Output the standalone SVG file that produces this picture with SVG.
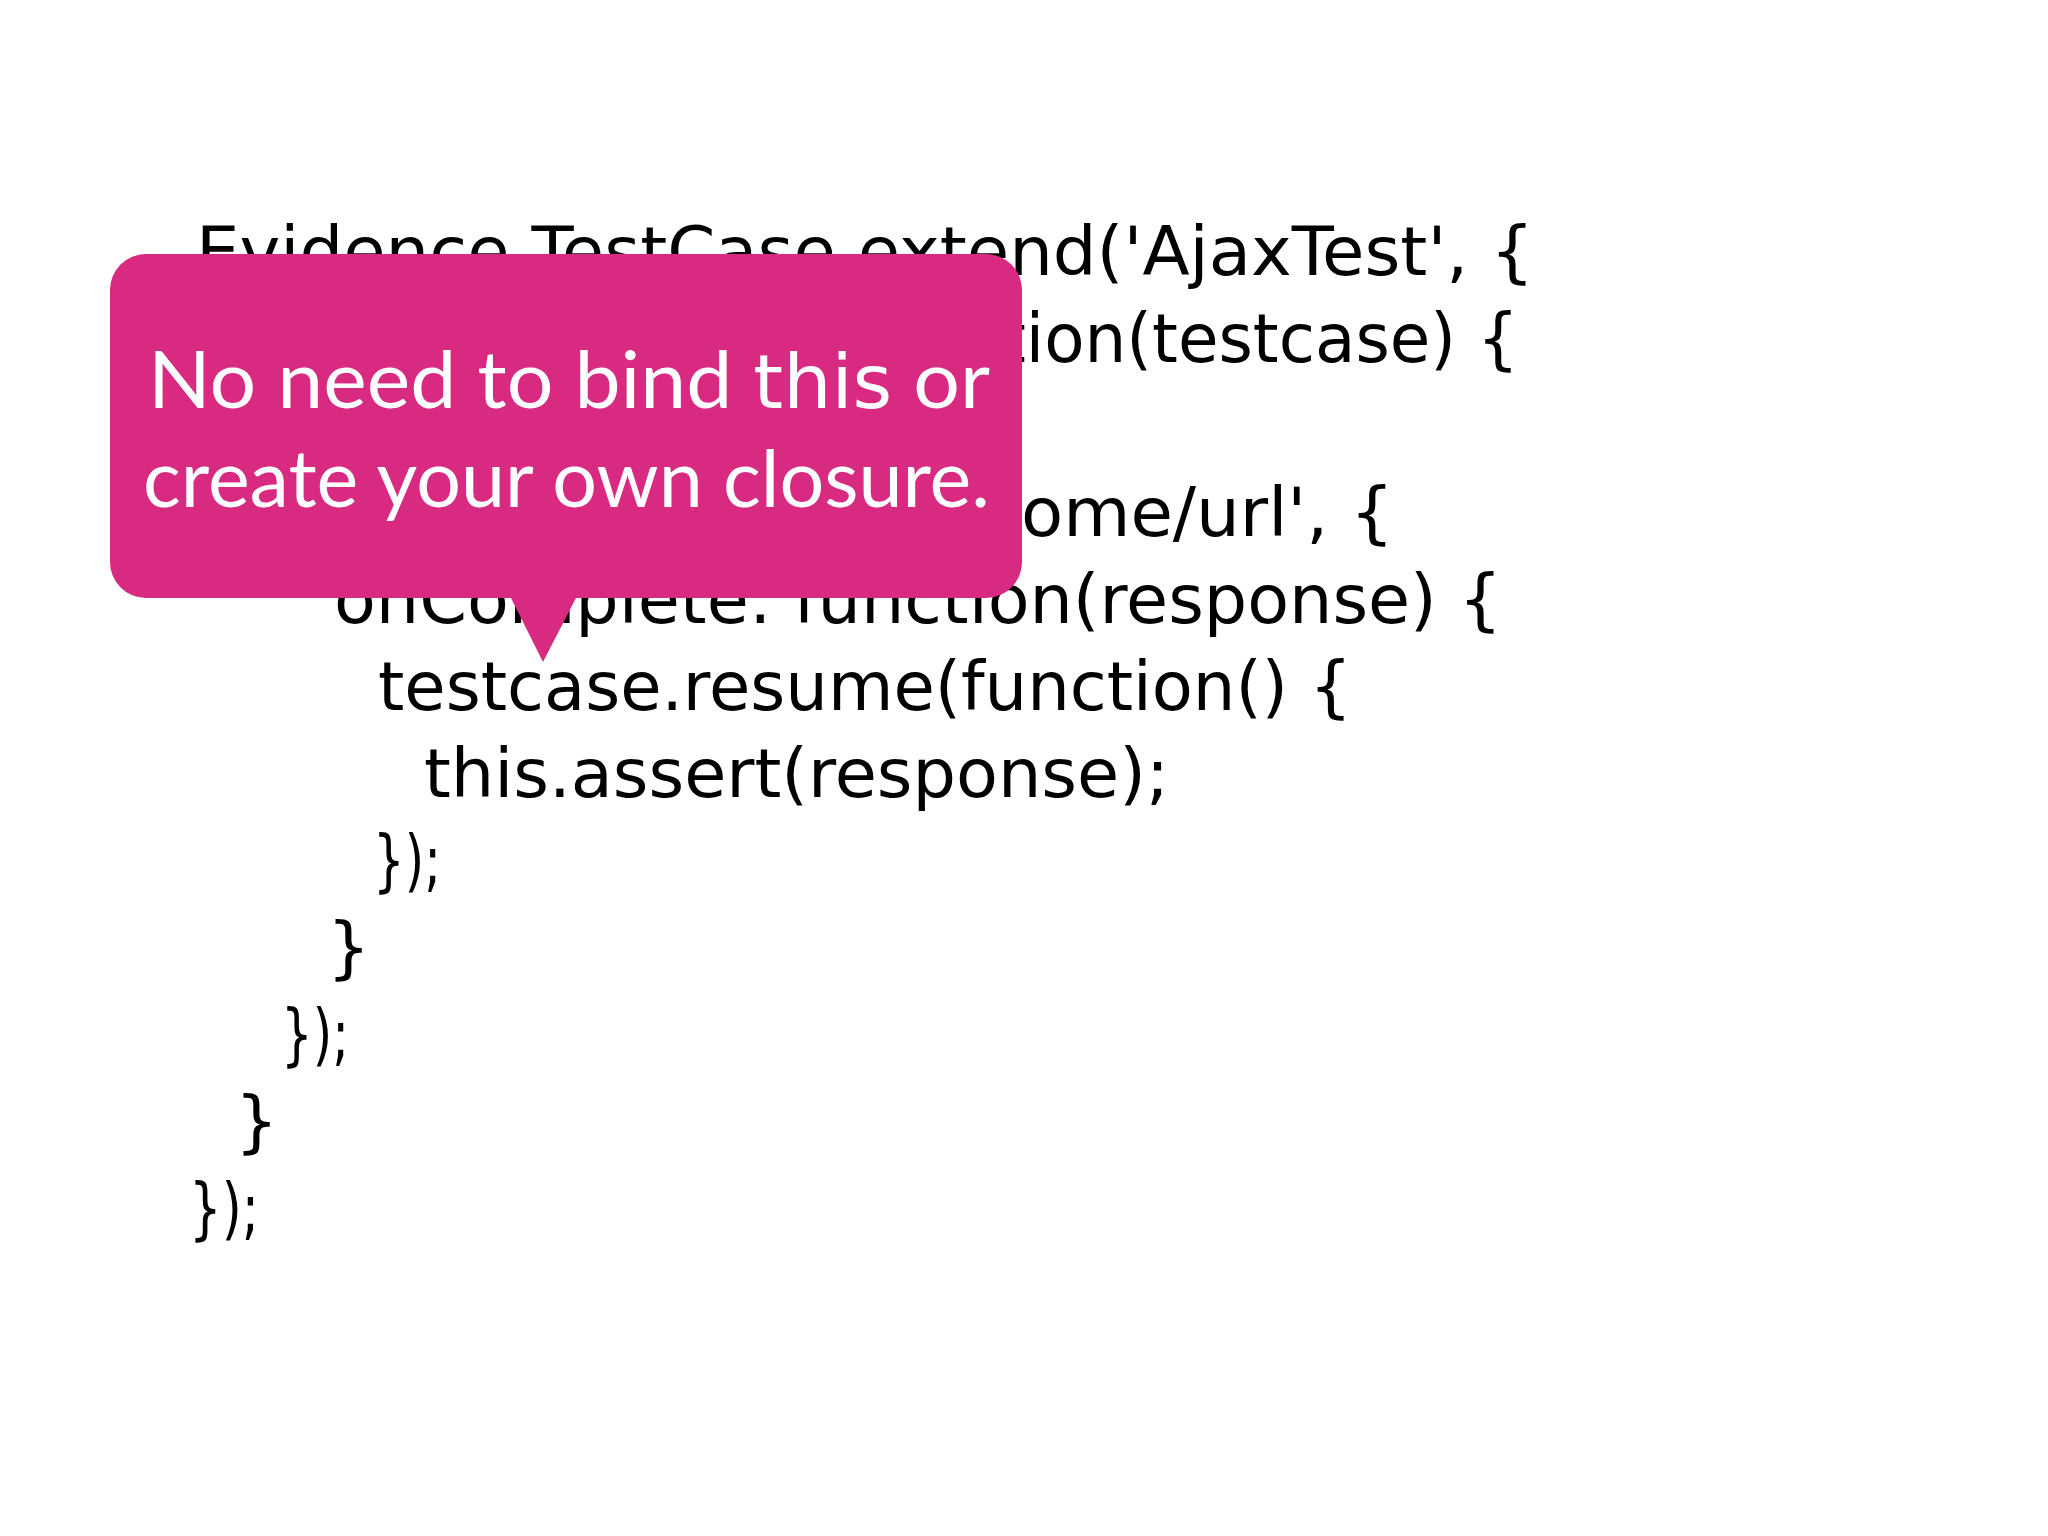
<svg xmlns="http://www.w3.org/2000/svg" width="2048" height="1536" viewBox="0 0 2048 1536">
  <style>
    .code { font-family: "DejaVu Sans", "Liberation Sans", sans-serif; font-size: 68px; fill: #000000; }
    .bubble { fill: #D92A81; }
    .btext { font-family: Lato, "Open Sans", "Liberation Sans", sans-serif; font-size: 80px; fill: #ffffff; }
    .kw { font-family: "DejaVu Sans", "Liberation Sans", sans-serif; font-size: 74px; }
  </style>
  <rect width="2048" height="1536" fill="#ffffff"/>
  <g id="code">
    <text class="code" x="196" y="275" textLength="1338" lengthAdjust="spacingAndGlyphs">Evidence.TestCase.extend('AjaxTest', {</text>
    <text class="code" x="1000" y="362" textLength="519" lengthAdjust="spacingAndGlyphs">tion(testcase) {</text>
    <text class="code" x="1021" y="536" textLength="373" lengthAdjust="spacingAndGlyphs">ome/url', {</text>
    <text class="code" x="334" y="623" textLength="1168" lengthAdjust="spacingAndGlyphs">onComplete: function(response) {</text>
    <text class="code" x="378" y="710" textLength="974" lengthAdjust="spacingAndGlyphs">testcase.resume(function() {</text>
    <text class="code" x="424" y="797" textLength="745" lengthAdjust="spacingAndGlyphs">this.assert(response);</text>
    <text class="code" x="373" y="884" textLength="68" lengthAdjust="spacingAndGlyphs">});</text>
    <text class="code" x="327" y="971">}</text>
    <text class="code" x="281" y="1058" textLength="68" lengthAdjust="spacingAndGlyphs">});</text>
    <text class="code" x="235" y="1145">}</text>
    <text class="code" x="189" y="1232" textLength="70" lengthAdjust="spacingAndGlyphs">});</text>
  </g>
  <g id="callout">
    <path class="bubble" d="M 146 254 H 986 A 36 36 0 0 1 1022 290 V 562 A 36 36 0 0 1 986 598 H 576 L 543 662 L 511 598 H 146 A 36 36 0 0 1 110 562 V 290 A 36 36 0 0 1 146 254 Z"/>
    <text class="btext" x="148" y="408" textLength="842" lengthAdjust="spacingAndGlyphs">No need to bind <tspan class="kw">this</tspan> or</text>
    <text class="btext" x="143" y="507" textLength="847" lengthAdjust="spacingAndGlyphs">create your own closure.</text>
  </g>
</svg>
